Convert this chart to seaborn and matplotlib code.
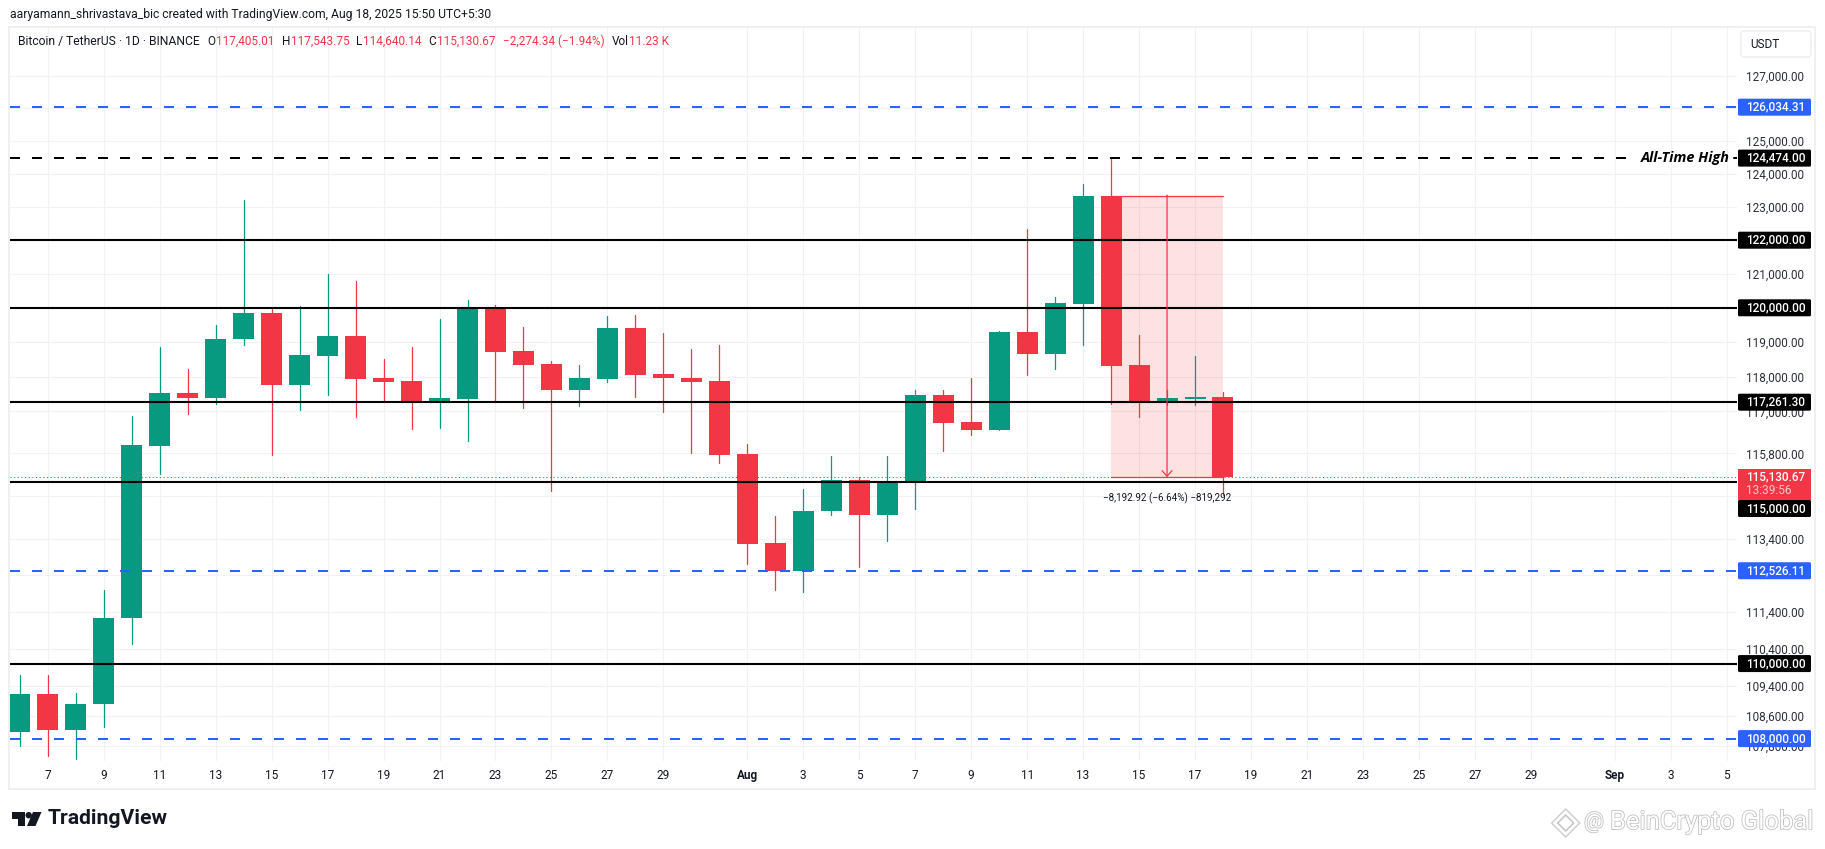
import matplotlib
matplotlib.use("Agg")
import matplotlib.pyplot as plt
import matplotlib.dates as mdates
import matplotlib.patheffects as pe
from matplotlib.patches import Rectangle, FancyBboxPatch, Polygon, Circle
from matplotlib.transforms import Affine2D
from matplotlib.ticker import FixedLocator, FixedFormatter, NullLocator
import numpy as np
import pandas as pd
import seaborn as sns

# ---- data -------------------------------------------------------------
first_day = "2025-07-06"
opens = [108184,109194,108230,108926,111245,116000,117518,117380,119080,119860,117755,118600,119180,117950,
         117870,117265,117350,120000,118730,118350,117600,117920,119410,118060,117970,117870,115780,113290,
         112530,114170,115060,114080,115030,117460,116700,116470,119300,118650,120120,123320,118330,117270,
         117362,117405.01]
highs = [109703,109700,109220,112007,116860,118860,118210,119500,123218,119950,120060,120990,120800,118520,
         118860,119680,120240,120090,119450,118460,118320,119770,119800,119270,118800,118920,116060,114030,
         114800,115720,115130,115720,117600,117600,117950,119330,122330,120330,123680,124474,119210,117620,
         118590,117543.75]
lows = [107800,107530,107450,108320,110520,115230,116920,117200,118920,115750,117040,117460,116830,117270,
        116500,116520,116150,117300,117100,114730,117150,117830,117400,116980,115810,115520,112720,112000,
        111930,114080,112640,113340,114250,115880,116330,116470,118050,118210,118920,117200,116830,117180,
        117180,114640.14]
closes = [109194,108230,108926,111245,116035,117518,117380,119100,119860,117755,118630,119180,117920,117840,
          117265,117380,120000,118700,118320,117600,117950,119410,118040,117950,117840,115750,113260,112530,
          114190,115060,114080,115000,117460,116670,116470,119300,118650,120150,123320,118290,117270,117380,
          117405,115130.67]

solid_levels = [122000, 120000, 117261.30, 115000, 110000]
blue_levels = [126034.31, 112526.11, 108000]
ath_level = 124474.00
last_close = 115130.67
price_ticks = [127000,126000,125000,124000,123000,122000,121000,120000,119000,118000,117000,
               115800,114600,113400,112400,111400,110400,109400,108600,107800]
covered_ticks = [126000, 122000, 120000, 114600, 112400]   # hidden behind price tags in the reference
x_tick_dates = ["2025-07-07","2025-07-09","2025-07-11","2025-07-13","2025-07-15","2025-07-17","2025-07-19",
                "2025-07-21","2025-07-23","2025-07-25","2025-07-27","2025-07-29","2025-08-01","2025-08-03",
                "2025-08-05","2025-08-07","2025-08-09","2025-08-11","2025-08-13","2025-08-15","2025-08-17",
                "2025-08-19","2025-08-21","2025-08-23","2025-08-25","2025-08-27","2025-08-29","2025-09-01",
                "2025-09-03","2025-09-05"]
x_tick_labels = ["7","9","11","13","15","17","19","21","23","25","27","29","Aug","3","5","7","9","11","13",
                 "15","17","19","21","23","25","27","29","Sep","3","5"]

GREEN, RED, BLUE, INK = "#089981", "#F23645", "#2962FF", "#131722"
GRID = "#F1F2F4"

sns.set_theme(style="white")
plt.rcParams["font.family"] = ["Roboto", "DejaVu Sans"]

dates = mdates.date2num(pd.date_range(first_day, periods=len(opens)))
df = pd.DataFrame({"day": dates, "open": opens, "high": highs, "low": lows, "close": closes})
df["dir"] = np.where(df["close"] >= df["open"], "up", "down")
wicks = df.melt(id_vars=["day", "dir"], value_vars=["low", "high"], value_name="price")

W, H = 1825, 849
L_PX, R_PX, T_PX, B_PX = 9.8, 1737, 27, 761
fig = plt.figure(figsize=(W / 100, H / 100), dpi=100, facecolor="white")
ax = fig.add_axes([L_PX / W, (H - B_PX) / H, (R_PX - L_PX) / W, (B_PX - T_PX) / H])
TOP = Affine2D().scale(1, -1).translate(0, H)   # pixel layer, origin top-left

# ---- candles ----------------------------------------------------------
sns.lineplot(data=wicks, x="day", y="price", hue="dir", units="day", estimator=None, sort=False,
             palette={"up": GREEN, "down": RED}, linewidth=0.9, legend=False, ax=ax, zorder=2)
ax.bar(df["day"], df["close"] - df["open"], bottom=df["open"], width=0.75,
       color=df["dir"].map({"up": GREEN, "down": RED}), linewidth=0, zorder=2.2)

ax.set_yscale("log")
ax.set_ylim(107410, 128530)
jul7 = mdates.date2num(pd.Timestamp("2025-07-07"))
ax.set_xlim(jul7 - 1.358, jul7 + 60.37)
ax.set_xlabel("")
ax.set_ylabel("")
for s in ax.spines.values():
    s.set_visible(False)

ax.set_axisbelow(True)
ax.yaxis.tick_right()
ax.yaxis.set_major_locator(FixedLocator(price_ticks))
ax.yaxis.set_major_formatter(FixedFormatter(["" if v in covered_ticks else f"{v:,.2f}" for v in price_ticks]))
ax.yaxis.set_minor_locator(NullLocator())
ax.tick_params(axis="y", length=0, pad=6.5, labelsize=8.5, labelcolor="#2A2E39")
ax.set_xticks(mdates.date2num(pd.to_datetime(x_tick_dates)))
ax.set_xticklabels(x_tick_labels)
ax.tick_params(axis="x", length=0, pad=5.5, labelsize=8.5, labelcolor=INK)
for lab in ax.get_xticklabels():
    if lab.get_text() in ("Aug", "Sep"):
        lab.set_fontweight("bold")
ax.grid(True, color=GRID, linewidth=0.75)

# ---- price measure ----------------------------------------------------
m0, m1 = mdates.date2num(pd.Timestamp("2025-08-14")), mdates.date2num(pd.Timestamp("2025-08-18"))
mid = mdates.date2num(pd.Timestamp("2025-08-16"))
ax.fill_between([m0, m1], closes[-1], opens[-5], color=RED, alpha=0.15, linewidth=0, zorder=1)
ax.plot([m0, m1], [opens[-5], opens[-5]], color=RED, lw=0.9, zorder=2.1)
ax.plot([m0, m1], [closes[-1], closes[-1]], color=RED, lw=0.9, zorder=2.1)
ax.annotate("", xy=(mid, closes[-1]), xytext=(mid, opens[-5] * 1.0003), zorder=4,
            arrowprops=dict(arrowstyle="->,head_length=4,head_width=3.6", mutation_scale=1, color=RED,
                            lw=0.9, shrinkA=0, shrinkB=0))

# ---- horizontal levels ------------------------------------------------
dash = (0, (5, 6))
for lv in solid_levels:
    ax.axhline(lv, color="black", lw=1.5, zorder=3)
for lv in blue_levels:
    ax.axhline(lv, color=BLUE, lw=1.44, ls=dash, dash_capstyle="butt", zorder=3)
frac = (1627 - L_PX) / (R_PX - L_PX)
ax.axhline(ath_level, xmax=frac, color="black", lw=1.44, ls=dash, dash_capstyle="butt", zorder=3)
ax.axhline(ath_level, xmin=(1734 - L_PX) / (R_PX - L_PX), color="black", lw=1.44, zorder=3)
ax.axhline(last_close, color=RED, lw=0.75, ls=(0, (1, 2.5)), zorder=3)

# ---- pixel layer ------------------------------------------------------
def ypx(price):
    return H - ax.transData.transform((ax.get_xlim()[0], price))[1]

def txt(x, y, s, **kw):
    kw.setdefault("va", "center")
    kw.setdefault("ha", "left")
    kw.setdefault("fontsize", 8.5)
    kw.setdefault("color", INK)
    kw.setdefault("zorder", 12)
    return fig.text(x, y, s, transform=TOP, **kw)

fig.add_artist(Rectangle((9, 27), 1806, 762, transform=TOP, fill=False, ec="#F0F0F0", lw=1.4, zorder=5))

txt(1685, 158, "All-Time High", ha="center", fontstyle="italic", fontweight="bold", fontsize=10.4,
    family=["Open Sans", "DejaVu Sans"], color="black")
txt(1167, 498.7, "\u22128,192.92 (\u22126.64%) \u2212819,292", ha="center", fontsize=7.1, color=INK)

# price tags
def tag(cy, label, bg, h=17):
    fig.add_artist(FancyBboxPatch((1739, cy - h / 2 + 1), 71, h - 2, boxstyle="round,pad=1,rounding_size=1.5",
                                  transform=TOP, fc=bg, ec="none", zorder=10))
    txt(1746, cy, label, color="white", fontweight="medium", zorder=12)

for lv in blue_levels:
    tag(ypx(lv), f"{lv:,.2f}", BLUE)
tag(ypx(ath_level), f"{ath_level:,.2f}", "black")
for lv in solid_levels:
    if lv != 115000:
        tag(ypx(lv), f"{lv:,.2f}", "black")
tag(508.5, "115,000.00", "black")
fig.add_artist(Rectangle((1738, 469), 73, 31, transform=TOP, fc=RED, ec="none", zorder=11))
txt(1746, 476.7, f"{last_close:,.2f}", color="white", fontweight="medium")
txt(1746, 490.7, "13:39:56", color="#FBC9CD")

# USDT button
fig.add_artist(FancyBboxPatch((1742, 32), 68, 24, boxstyle="round,pad=1,rounding_size=3", transform=TOP,
                              fc="white", ec="#F0F0F0", lw=1.2, zorder=6))
txt(1750, 44.7, "USDT")

# headers
txt(10, 14.7, "aaryamann_shrivastava_bic created with TradingView.com, Aug 18, 2025 15:50 UTC+5:30", fontsize=8.75)
txt(17.9, 41.7, "Bitcoin / TetherUS \u00b7 1D \u00b7 BINANCE", fontsize=8.7)
for x, s, col in [(207.6, "O", INK), (216, "117,405.01", RED), (282, "H", INK), (290.6, "117,543.75", RED),
                  (356, "L", INK), (363, "114,640.14", RED), (428.6, "C", INK), (436.6, "115,130.67", RED),
                  (502.7, "\u22122,274.34 (\u22121.94%)", RED), (611.6, "Vol", INK), (628.6, "11.23 K", RED)]:
    txt(x, 41.7, s, fontsize=8.5, color=col)

# TradingView mark
for pts in ([(11.6, 812), (24.5, 812), (24.5, 826), (18, 826), (18, 818.5), (11.6, 818.5)],
            [(33, 812), (41.5, 812), (35.5, 826), (27, 826)]):
    fig.add_artist(Polygon(pts, closed=True, transform=TOP, fc="#131722", ec="none", zorder=8))
fig.add_artist(Circle((28.7, 815.2), 3.2, transform=TOP, fc="#131722", ec="none", zorder=8))
txt(48, 819, "TradingView", fontsize=15.2, fontweight="bold", color="#131722")

# watermark
halo = [pe.withStroke(linewidth=1.1, foreground="#BDBDBD")]
for s, x, fs in [("@", 1584, 16), ("BeinCrypto Global", 1610, 18.4)]:
    t = txt(x, 822, s, fontsize=fs, color="white", zorder=9)
    t.set_path_effects(halo)
for r, col in [(14, "#D0D0D0"), (8, "#C4C4C4")]:
    cx, cy = 1565.7, 823
    fig.add_artist(Polygon([(cx, cy - r), (cx + r, cy), (cx, cy + r), (cx - r, cy)], closed=True, transform=TOP,
                           fc="white", ec=col, lw=1.1, zorder=8))

fig.savefig("out.png", dpi=100, facecolor="white")
